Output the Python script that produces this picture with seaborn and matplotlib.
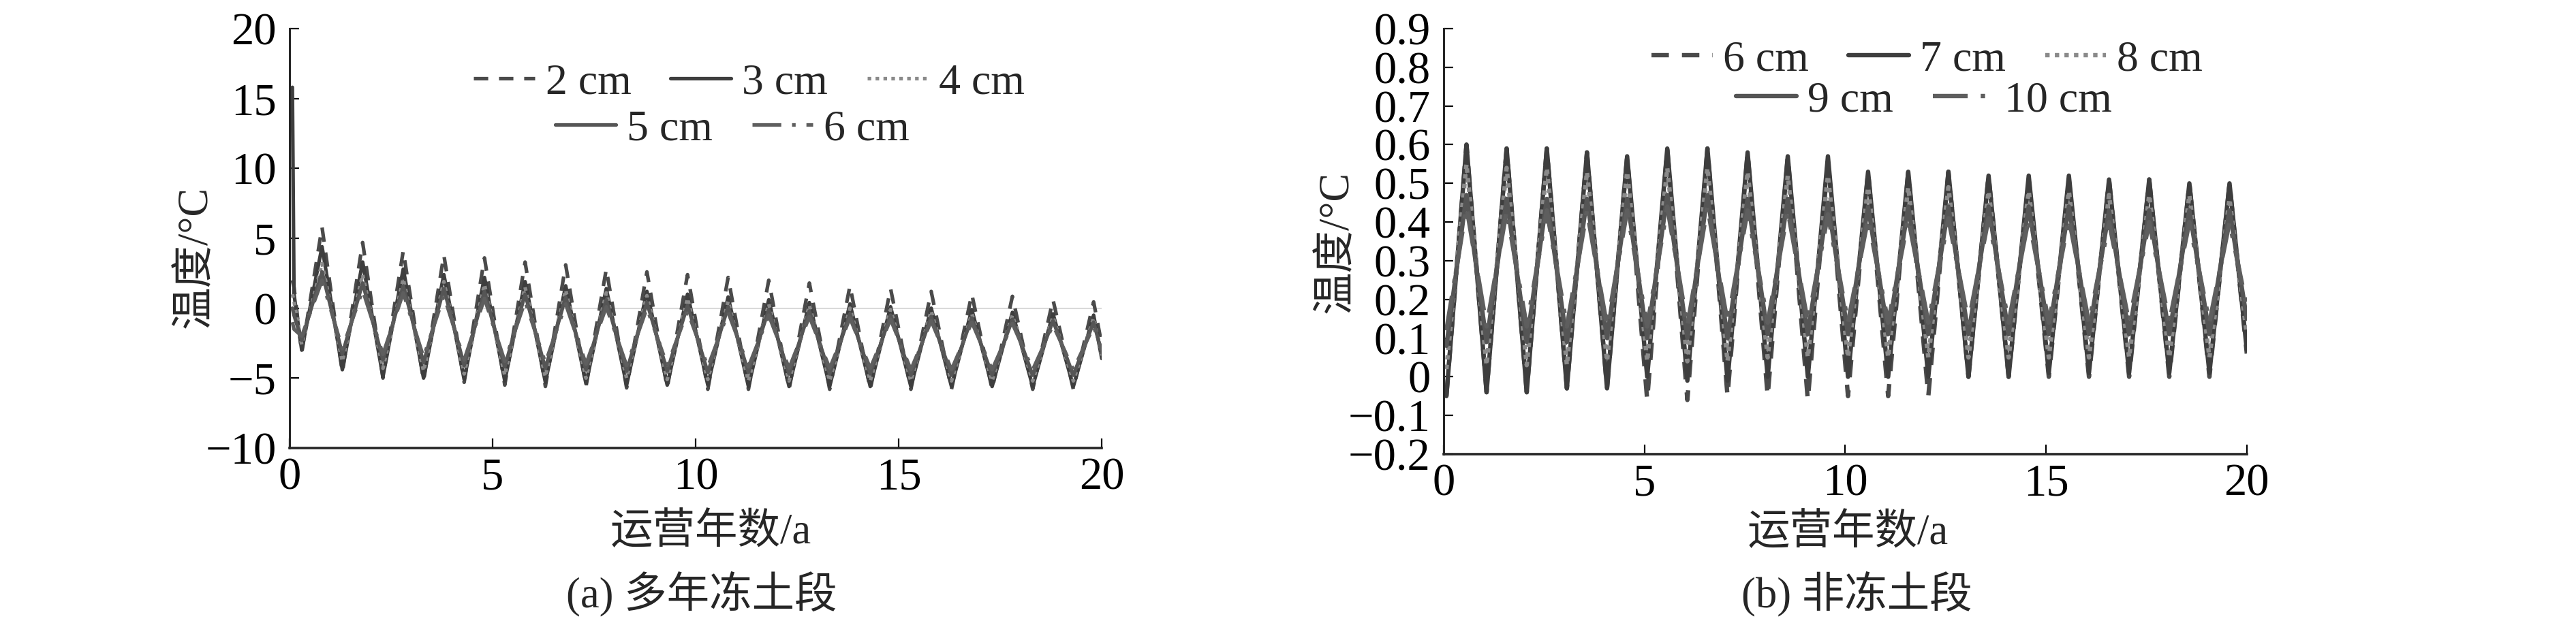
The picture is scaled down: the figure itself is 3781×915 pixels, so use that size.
import matplotlib
matplotlib.use('Agg')
import matplotlib.pyplot as plt
import seaborn as sns

sns.set_style('ticks')
plt.rcParams['font.family'] = ['Liberation Serif', 'Noto Sans CJK SC']
plt.rcParams['axes.unicode_minus'] = True

# ---------------- panel (a) 多年冻土段 ----------------
# times of the yearly minimum / maximum (years)
trough_t_a = [0.3, 1.3, 2.3, 3.3, 4.3, 5.3, 6.3, 7.3, 8.3, 9.3,
              10.3, 11.3, 12.3, 13.3, 14.3, 15.3, 16.3, 17.3, 18.3, 19.3]
peak_t_a = [0.8, 1.8, 2.8, 3.8, 4.8, 5.8, 6.8, 7.8, 8.8, 9.8,
            10.8, 11.8, 12.8, 13.8, 14.8, 15.8, 16.8, 17.8, 18.8, 19.8]
start_t_a = [0.07, 0.11]
end_t_a = 20.0

labels_a = ['2 cm', '3 cm', '4 cm', '5 cm', '6 cm']
start_a = {
    '2 cm': [2.0, 1.5],
    '3 cm': [15.8, 1.0],
    '4 cm': [1.0, 0.5],
    '5 cm': [0.0, -0.5],
    '6 cm': [-1.0, -1.5],
}
troughs_a = {
    '2 cm': [-3.2, -4.6, -5.0, -5.2, -5.3, -5.5, -5.6, -5.6, -5.7, -5.7,
             -5.8, -5.8, -5.8, -5.8, -5.8, -5.8, -5.8, -5.8, -5.8, -5.8],
    '3 cm': [-3.0, -4.4, -4.9, -5.0, -5.1, -5.2, -5.3, -5.4, -5.5, -5.5,
             -5.5, -5.6, -5.6, -5.6, -5.6, -5.6, -5.6, -5.6, -5.6, -5.6],
    '4 cm': [-2.6, -3.8, -4.3, -4.5, -4.7, -4.8, -4.9, -5.0, -5.0, -5.1,
             -5.1, -5.2, -5.2, -5.2, -5.2, -5.2, -5.2, -5.2, -5.2, -5.2],
    '5 cm': [-2.3, -3.3, -3.7, -3.9, -4.1, -4.2, -4.3, -4.4, -4.5, -4.5,
             -4.6, -4.6, -4.7, -4.7, -4.7, -4.8, -4.8, -4.8, -4.8, -4.8],
    '6 cm': [-2.0, -2.9, -3.3, -3.5, -3.7, -3.8, -3.9, -4.0, -4.1, -4.1,
             -4.2, -4.2, -4.3, -4.3, -4.3, -4.4, -4.4, -4.4, -4.4, -4.4],
}
peaks_a = {
    '2 cm': [5.8, 4.7, 4.1, 3.8, 3.6, 3.3, 3.1, 2.8, 2.6, 2.4,
             2.2, 2.0, 1.8, 1.6, 1.4, 1.2, 1.0, 0.85, 0.6, 0.45],
    '3 cm': [4.4, 3.3, 2.8, 2.4, 2.2, 1.9, 1.6, 1.4, 1.2, 1.0,
             0.8, 0.6, 0.4, 0.3, 0.1, 0.0, -0.1, -0.3, -0.4, -0.5],
    '4 cm': [3.2, 2.4, 2.1, 1.9, 1.7, 1.5, 1.3, 1.1, 0.9, 0.7,
             0.5, 0.3, 0.2, 0.0, -0.1, -0.2, -0.4, -0.5, -0.6, -0.7],
    '5 cm': [2.6, 1.8, 1.6, 1.4, 1.2, 1.0, 0.8, 0.6, 0.4, 0.2,
             0.1, -0.1, -0.2, -0.4, -0.5, -0.6, -0.7, -0.8, -0.9, -1.0],
    '6 cm': [2.0, 1.3, 1.1, 0.9, 0.7, 0.5, 0.3, 0.1, 0.0, -0.2,
             -0.3, -0.5, -0.6, -0.7, -0.8, -0.9, -1.0, -1.1, -1.2, -1.3],
}
end_a = {'2 cm': -2.6, '3 cm': -3.6, '4 cm': -3.4, '5 cm': -3.2, '6 cm': -3.0}

# ---------------- panel (b) 非冻土段 ----------------
trough_t_b = [0.07, 1.07, 2.07, 3.07, 4.07, 5.07, 6.07, 7.07, 8.07, 9.07,
              10.07, 11.07, 12.07, 13.07, 14.07, 15.07, 16.07, 17.07, 18.07, 19.07]
peak_t_b = [0.57, 1.57, 2.57, 3.57, 4.57, 5.57, 6.57, 7.57, 8.57, 9.57,
            10.57, 11.57, 12.57, 13.57, 14.57, 15.57, 16.57, 17.57, 18.57, 19.57]
end_t_b = 20.0

labels_b = ['6 cm', '7 cm', '8 cm', '9 cm', '10 cm']
troughs_b = {
    '6 cm': [-0.05, -0.04, -0.04, -0.03, -0.03, -0.06, -0.06, -0.05, -0.05, -0.06,
             -0.05, -0.05, -0.05, 0.0, 0.0, 0.0, 0.0, 0.0, 0.0, 0.0],
    '7 cm': [-0.05, -0.04, -0.04, -0.03, -0.03, 0.0, -0.01, -0.01, 0.0, 0.0,
             0.0, 0.0, 0.0, 0.0, 0.0, 0.01, 0.01, 0.01, 0.01, 0.01],
    '8 cm': [0.02, 0.03, 0.03, 0.03, 0.04, 0.04, 0.04, 0.04, 0.05, 0.05,
             0.05, 0.05, 0.05, 0.05, 0.05, 0.05, 0.05, 0.05, 0.05, 0.05],
    '9 cm': [0.08, 0.09, 0.09, 0.09, 0.10, 0.10, 0.10, 0.10, 0.11, 0.11,
             0.11, 0.11, 0.11, 0.11, 0.11, 0.11, 0.11, 0.11, 0.11, 0.11],
    '10 cm': [0.12, 0.13, 0.13, 0.13, 0.13, 0.13, 0.13, 0.14, 0.14, 0.14,
              0.14, 0.14, 0.14, 0.14, 0.14, 0.14, 0.14, 0.14, 0.14, 0.14],
}
peaks_b = {
    '6 cm': [0.60, 0.59, 0.59, 0.58, 0.57, 0.59, 0.59, 0.58, 0.57, 0.56,
             0.53, 0.53, 0.53, 0.52, 0.51, 0.51, 0.51, 0.51, 0.50, 0.50],
    '7 cm': [0.60, 0.59, 0.59, 0.58, 0.57, 0.59, 0.59, 0.58, 0.57, 0.57,
             0.53, 0.53, 0.53, 0.52, 0.52, 0.52, 0.51, 0.51, 0.50, 0.50],
    '8 cm': [0.55, 0.54, 0.54, 0.53, 0.53, 0.54, 0.54, 0.53, 0.52, 0.52,
             0.49, 0.49, 0.49, 0.48, 0.48, 0.48, 0.47, 0.47, 0.47, 0.46],
    '9 cm': [0.47, 0.46, 0.46, 0.46, 0.46, 0.47, 0.47, 0.46, 0.46, 0.45,
             0.44, 0.44, 0.44, 0.44, 0.44, 0.44, 0.43, 0.43, 0.43, 0.43],
    '10 cm': [0.44, 0.43, 0.43, 0.43, 0.43, 0.44, 0.44, 0.43, 0.43, 0.42,
              0.41, 0.41, 0.41, 0.41, 0.41, 0.41, 0.40, 0.40, 0.40, 0.40],
}
end_b = {'6 cm': 0.06, '7 cm': 0.07, '8 cm': 0.11, '9 cm': 0.15, '10 cm': 0.18}

yticks_a = [-10, -5, 0, 5, 10, 15, 20]
yticks_b = [-0.2, -0.1, 0, 0.1, 0.2, 0.3, 0.4, 0.5, 0.6, 0.7, 0.8, 0.9]
yticklabels_b = ['\u22120.2', '\u22120.1', '0', '0.1', '0.2', '0.3', '0.4',
                 '0.5', '0.6', '0.7', '0.8', '0.9']
xticks = [0, 5, 10, 15, 20]

# line looks: one per legend entry (same order as labels)
styles = [
    ('#4a4a4a', (0, (4, 3))),        # dashed
    ('#3e3e3e', '-'),                # solid
    ('#8a8a8a', (0, (1, 1.2))),      # dotted
    ('#555555', '-'),                # solid
    ('#5e5e5e', (0, (8, 3, 1, 3))),  # dash-dot
]


def series(t_start, v_start, tr_t, tr_v, pk_t, pk_v, t_end, v_end):
    x, y = list(t_start), list(v_start)
    for a, b, c, d in zip(tr_t, tr_v, pk_t, pk_v):
        x += [a, c]
        y += [b, d]
    x.append(t_end)
    y.append(v_end)
    return x, y


fig = plt.figure(figsize=(37.81, 9.15), dpi=100)
ax1 = fig.add_axes([0.1124, 0.2809, 0.3153, 0.6732])
ax2 = fig.add_axes([0.5604, 0.2710, 0.3118, 0.6831])

ax1.axhline(0, color='#d9d9d9', lw=1.5, zorder=0)
for lab, (col, ls) in zip(labels_a, styles):
    x, y = series(start_t_a, start_a[lab], trough_t_a, troughs_a[lab],
                  peak_t_a, peaks_a[lab], end_t_a, end_a[lab])
    sns.lineplot(x=x, y=y, ax=ax1, color=col, linestyle=ls, lw=3.8,
                 estimator=None, label=lab, legend=False)

for lab, (col, ls) in zip(labels_b, styles):
    x, y = series([], [], trough_t_b, troughs_b[lab],
                  peak_t_b, peaks_b[lab], end_t_b, end_b[lab])
    sns.lineplot(x=x, y=y, ax=ax2, color=col, linestyle=ls, lw=4.6,
                 estimator=None, label=lab, legend=False)

for ax in (ax1, ax2):
    sns.despine(ax=ax)
    ax.spines['left'].set_linewidth(2.2)
    ax.spines['bottom'].set_linewidth(2.6)
    ax.set_xlim(0, 20)
    ax.set_xticks(xticks)
    ax.tick_params(direction='in', length=10, width=1.6, labelsize=48,
                   colors='black')
    ax.tick_params(axis='y', pad=14)
    ax.tick_params(axis='x', pad=10)
    ax.set_xlabel('运营年数/a', fontsize=45)
    ax.set_ylabel('温度/°C', fontsize=45)

ax1.set_ylim(-10, 20)
ax1.set_yticks(yticks_a)
ax2.set_ylim(-0.2, 0.9)
ax2.set_yticks(yticks_b)
ax2.set_yticklabels(yticklabels_b)

ax1.yaxis.set_label_coords(-0.091, 0.456)
ax2.yaxis.set_label_coords(-0.1075, 0.498)
ax1.xaxis.set_label_coords(0.519, -0.155)
ax2.xaxis.set_label_coords(0.503, -0.140)

# legends: 3 entries on the first row, 2 centred below
leg_kw = dict(frameon=False, fontsize=46, handlelength=1.4, handletextpad=0.25,
              columnspacing=0.9, borderpad=0, borderaxespad=0, loc='center')
for ax, r1, r2 in ((ax1, (0.566, 0.870), (0.545, 0.760)),
                   (ax2, (0.602, 0.926), (0.598, 0.830))):
    h, l = ax.get_legend_handles_labels()
    top = ax.legend(h[:3], l[:3], ncol=3, bbox_to_anchor=r1, **leg_kw)
    ax.add_artist(top)
    ax.legend(h[3:], l[3:], ncol=2, bbox_to_anchor=r2, **leg_kw)

fig.text(0.2724, 0.046, '(a) 多年冻土段', fontsize=45, ha='center', va='center')
fig.text(0.7207, 0.046, '(b) 非冻土段', fontsize=45, ha='center', va='center')

fig.savefig('out.png', dpi=100, facecolor='white')
